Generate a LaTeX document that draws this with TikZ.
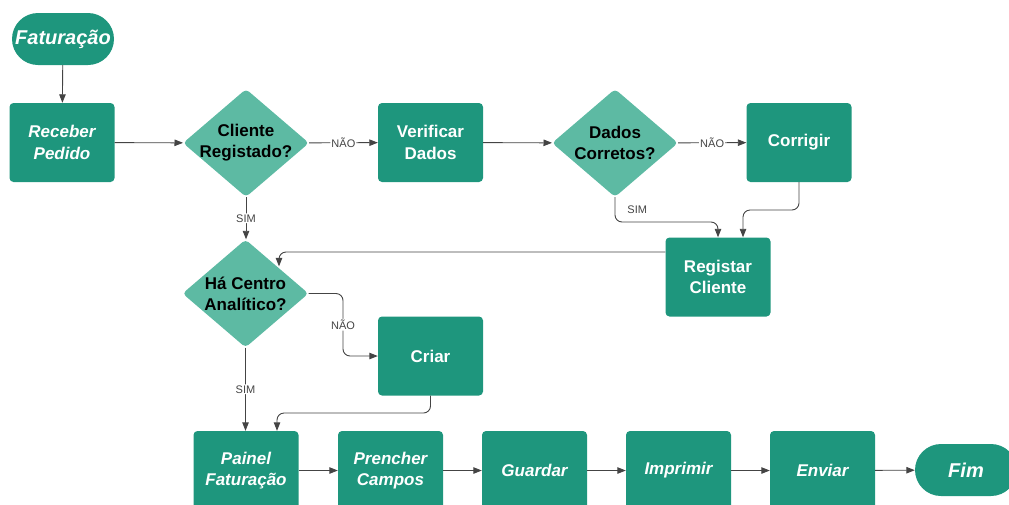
\documentclass[tikz,border=0pt]{standalone}
\usepackage{fontspec}
\setmainfont{Liberation Sans}
\usetikzlibrary{shapes.geometric,arrows.meta,calc}
\definecolor{boxc}{HTML}{1E967D}
\definecolor{diac}{HTML}{5DBAA3}
\definecolor{linec}{HTML}{444444}
\begin{document}
\begin{tikzpicture}[x=1pt,y=-1pt,
 box/.style={fill=boxc, rounded corners=4pt, minimum width=105pt, minimum height=79pt, text=white, align=center, font=\fontsize{17}{21.5}\selectfont\bfseries, inner sep=0pt},
 ibox/.style={box, font=\fontsize{17}{21.5}\selectfont\bfseries\itshape},
 term/.style={fill=boxc, rounded corners=26pt, minimum width=102pt, minimum height=52pt, text=white, font=\fontsize{20}{24}\selectfont\bfseries\itshape, inner sep=0pt},
 dia/.style={diamond, fill=diac, rounded corners=4pt, minimum width=126pt, minimum height=108pt, inner sep=0pt},
 dtext/.style={align=center, font=\fontsize{17}{21}\selectfont\bfseries, text=black},
 arr/.style={draw=linec, line width=0.9pt, -{Triangle[length=8.5pt,width=6.5pt]}, rounded corners=7pt},
 lbl/.style={fill=white, inner sep=1pt, text=linec, font=\fontsize{11}{13}\selectfont}]
\useasboundingbox (0,0) rectangle (1009,504);
% nodes
\node[term] (fat) at (63,39) {Faturação};
\node[ibox] (rec) at (62,142.5) {Receber\\Pedido};
\node[dia] (c1) at (246,143) {};
\node[dtext] (c1t) at (c1) {Cliente\\Registado?};
\node[box] (ver) at (430.5,142.5) {Verificar\\Dados};
\node[dia] (c2) at (615,143) {};
\node[dtext] (c2t) at (c2) {Dados\\Corretos?};
\node[box] (cor) at (799,142.5) {Corrigir};
\node[box] (reg) at (718,277) {Registar\\Cliente};
\node[dia] (c3) at (245.5,293.5) {};
\node[dtext] (c3t) at (c3) {Há Centro\\Analítico?};
\node[box] (cri) at (430.5,356) {Criar};
\node[ibox] (pai) at (246,470.5) {Painel\\Faturação};
\node[ibox] (pre) at (390.5,470.5) {Prencher\\Campos};
\node[ibox] (gua) at (534.5,470.5) {Guardar};
\node[ibox] (imp) at (678.5,470.5) {Imprimir};
\node[ibox] (env) at (822.5,470.5) {Enviar};
\node[term] (fim) at (966,470) {Fim};
% connectors
\draw[arr] (fat) -- (rec);
\draw[arr] (rec) -- (c1);
\draw[arr] (c1) -- node[lbl]{NÃO} (ver);
\draw[arr] (ver) -- (c2);
\draw[arr] (c2) -- node[lbl]{NÃO} (cor);
\coordinate (k1) at (0,222);
\draw[arr] (c2.south) -- node[lbl, anchor=west, xshift=11pt]{SIM} (c2.south |- k1) -| (reg.north);
\coordinate (k2) at (743,210);
\draw[arr] (cor.south) |- (k2) -- (k2 |- reg.north);
\coordinate (k3) at (279,252);
\draw[arr] (k3 -| reg.west) -- (k3) -- (k3 |- c3.north east);
\draw[arr] (c1.south) -- node[lbl]{SIM} (c1.south |- c3.north);
\coordinate (k4) at (343,0);
\draw[arr] (c3.east) -- (k4 |- c3.east) -- node[lbl]{NÃO} (k4 |- cri.west) -- (cri.west);
\draw[arr] (c3.south) -- node[lbl]{SIM} (c3.south |- pai.north);
\coordinate (k5) at (277,413);
\draw[arr] (cri.south) |- (k5) -- (k5 |- pai.north);
\draw[arr] (pai) -- (pre);
\draw[arr] (pre) -- (gua);
\draw[arr] (gua) -- (imp);
\draw[arr] (imp) -- (env);
\draw[arr] (env) -- (fim);
\end{tikzpicture}
\end{document}
